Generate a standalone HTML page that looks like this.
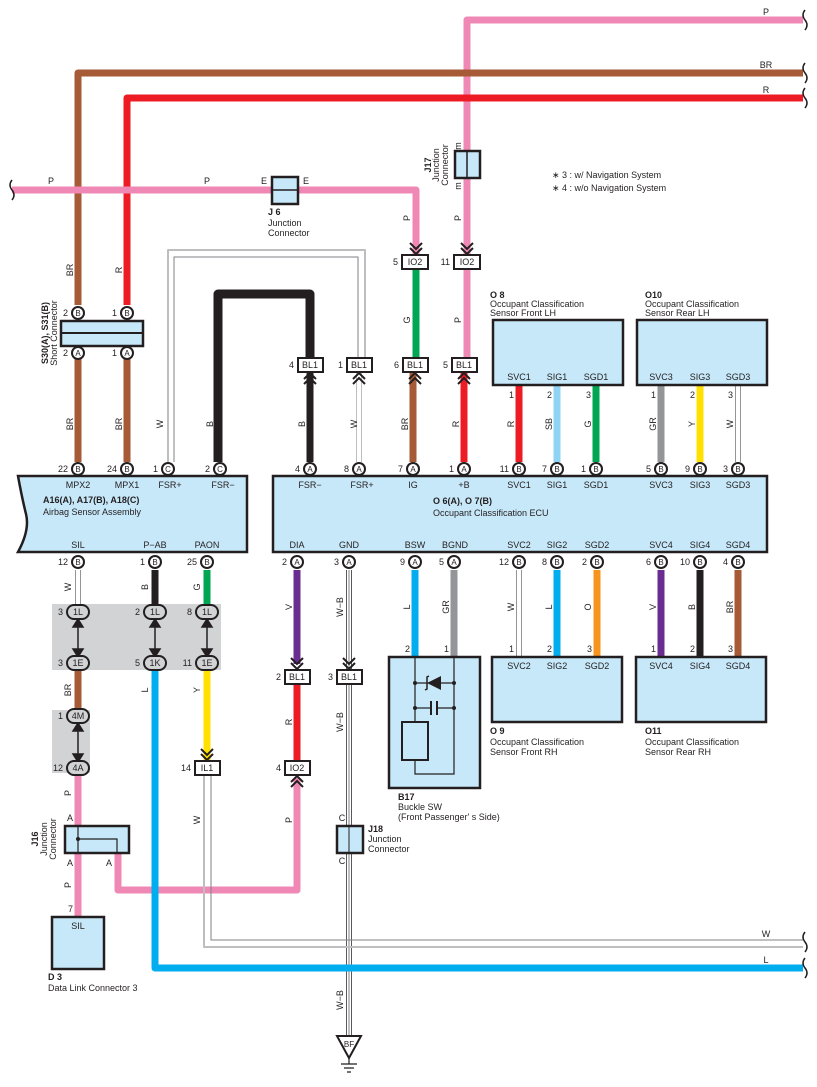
<!DOCTYPE html>
<html><head><meta charset="utf-8"><style>
body{margin:0;background:#fff}
svg{display:block}
text{font-family:"Liberation Sans",sans-serif;font-size:9px;fill:#231f20}
.b{font-weight:bold}
.pc{fill:#fff;stroke:#231f20;stroke-width:2}
.pl{font-size:8px;text-anchor:middle}
.bx{fill:#c7e8f9;stroke:#231f20;stroke-width:2.5}
.cb{fill:#fff;stroke:#231f20;stroke-width:2}
.ch{fill:none;stroke:#231f20;stroke-width:2}
.m{text-anchor:middle}
.e{text-anchor:end}
</style></head><body>
<svg width="817" height="1087" viewBox="0 0 817 1087" xmlns="http://www.w3.org/2000/svg">
<defs>
<g id="chd"><polyline class="ch" points="-6,-12 0,-6 6,-12"/><polyline class="ch" points="-6,-7 0,-1 6,-7"/></g>
<g id="chu"><polyline class="ch" points="-6,12 0,6 6,12"/><polyline class="ch" points="-6,7 0,1 6,7"/></g>
</defs>
<rect x="52" y="604" width="169" height="66" fill="#d1d3d4"/>
<rect x="52" y="710" width="38" height="63" fill="#d1d3d4"/>
<g fill="none" stroke-linejoin="round">
<path d="M803,20 H467 V262" stroke="#f088b6" stroke-width="7"/>
<path d="M467,268 V360" stroke="#f088b6" stroke-width="7"/>
<path d="M803,73 H78 V305" stroke="#a65a35" stroke-width="7"/>
<path d="M803,98 H127 V305" stroke="#ed1c24" stroke-width="7"/>
<path d="M12,190 H416 V255" stroke="#f088b6" stroke-width="7"/>
<path d="M416,268 V360" stroke="#00a651" stroke-width="7"/>
<path d="M78,352 V462 M127,352 V462" stroke="#a65a35" stroke-width="7"/>
<path d="M168,462 V250 H365 V360" stroke="#bcbec0" stroke-width="2"/>
<path d="M174,462 V257 H358 V360" stroke="#808285" stroke-width="1"/>
<path d="M218,462 V294 H310 V360" stroke="#231f20" stroke-width="9"/>
<path d="M310,372 V462" stroke="#231f20" stroke-width="7"/>
<path d="M359,372 V462" stroke="#bcbec0" stroke-width="6"/><path d="M359,372 V462" stroke="#fff" stroke-width="4"/>
<path d="M413,372 V462" stroke="#a65a35" stroke-width="7"/>
<path d="M464,372 V462" stroke="#ed1c24" stroke-width="7"/>
<path d="M519,385 V462" stroke="#ed1c24" stroke-width="7"/>
<path d="M557,385 V462" stroke="#8fd3f5" stroke-width="7"/>
<path d="M596,385 V462" stroke="#00a651" stroke-width="7"/>
<path d="M661,385 V462" stroke="#939598" stroke-width="7"/>
<path d="M700,385 V462" stroke="#ffe000" stroke-width="7"/>
<path d="M738,385 V462" stroke="#939598" stroke-width="6"/><path d="M738,385 V462" stroke="#fff" stroke-width="4"/>
<path d="M297,570 V664" stroke="#6a2c91" stroke-width="7"/>
<path d="M297,684 V762" stroke="#ed1c24" stroke-width="7"/>
<path d="M297,778 V890 H118 V852" stroke="#f088b6" stroke-width="7"/>
<path d="M349,570 V1036" stroke="#58595b" stroke-width="6"/><path d="M349,570 V1036" stroke="#fff" stroke-width="4"/><path d="M349,570 V1036" stroke="#808285" stroke-width="1"/>
<path d="M415,570 V657" stroke="#00aeef" stroke-width="7"/>
<path d="M454,570 V657" stroke="#939598" stroke-width="7"/>
<path d="M519,570 V657" stroke="#939598" stroke-width="6"/><path d="M519,570 V657" stroke="#fff" stroke-width="4"/>
<path d="M557,570 V657" stroke="#00aeef" stroke-width="7"/>
<path d="M597,570 V657" stroke="#f7941d" stroke-width="7"/>
<path d="M661,570 V657" stroke="#6a2c91" stroke-width="7"/>
<path d="M700,570 V657" stroke="#231f20" stroke-width="7"/>
<path d="M738,570 V657" stroke="#a65a35" stroke-width="7"/>
<path d="M78,570 V605" stroke="#939598" stroke-width="6"/><path d="M78,570 V605" stroke="#fff" stroke-width="4"/>
<path d="M155,570 V605" stroke="#231f20" stroke-width="7"/>
<path d="M207,570 V605" stroke="#00a651" stroke-width="7"/>
<path d="M78,670 V710" stroke="#a65a35" stroke-width="7"/>
<path d="M155,670 V968 H803" stroke="#00aeef" stroke-width="7"/>
<path d="M207,670 V760" stroke="#ffe000" stroke-width="7"/>
<path d="M78,773 V917" stroke="#f088b6" stroke-width="7"/>
<path d="M204,775 V947 H803" stroke="#bcbec0" stroke-width="2"/>
<path d="M211,775 V940 H803" stroke="#808285" stroke-width="1"/>
</g>
<g fill="none" stroke="#231f20" stroke-width="1.5">
<path d="M805,10 q-4,5 0,10 q4,5 0,10"/>
<path d="M805,63 q-4,5 0,10 q4,5 0,10"/>
<path d="M805,88 q-4,5 0,10 q4,5 0,10"/>
<path d="M12,180 q-4,5 0,10 q4,5 0,10"/>
<path d="M805,932 q-4,5 0,10 q4,5 0,10"/>
<path d="M805,958 q-4,5 0,10 q4,5 0,10"/>
</g>
<g stroke="#231f20" stroke-width="1.5" fill="#231f20">
<line x1="78" y1="620" x2="78" y2="656"/><line x1="155" y1="620" x2="155" y2="656"/><line x1="207" y1="620" x2="207" y2="656"/><line x1="78" y1="724" x2="78" y2="761"/>
<path d="M73,627 L78,619 L83,627 Z M73,649 L78,657 L83,649 Z M150,627 L155,619 L160,627 Z M150,649 L155,657 L160,649 Z M202,627 L207,619 L212,627 Z M202,649 L207,657 L212,649 Z M73,731 L78,723 L83,731 Z M73,754 L78,762 L83,754 Z"/>
</g>
<rect class="bx" x="272" y="177" width="26" height="27" stroke-width="2"/><line x1="272" y1="190" x2="298" y2="190" stroke="#231f20" stroke-width="1.5"/>
<rect class="bx" x="455" y="151" width="25" height="27" stroke-width="2"/><line x1="467" y1="151" x2="467" y2="178" stroke="#231f20" stroke-width="1.5"/>
<rect class="bx" x="65" y="826" width="64" height="27" stroke-width="2"/>
<path d="M78,826 V853 M78,839 H117 V853" fill="none" stroke="#231f20" stroke-width="1.2"/><circle cx="78" cy="839" r="2" fill="#231f20"/>
<rect class="bx" x="337" y="826" width="26" height="27" stroke-width="2"/><line x1="349" y1="826" x2="349" y2="853" stroke="#231f20" stroke-width="1"/>
<rect class="bx" x="61" y="321" width="82" height="25"/><line x1="61" y1="333" x2="143" y2="333" stroke="#231f20" stroke-width="2"/>
<path class="bx" d="M18,476 H247 V552 H18 Q30,530 26,514 Q22,498 18,476 Z"/>
<rect class="bx" x="273" y="476" width="494" height="76"/>
<rect class="bx" x="493" y="320" width="130" height="65"/>
<rect class="bx" x="637" y="320" width="130" height="65"/>
<rect class="bx" x="492" y="657" width="130" height="65"/>
<rect class="bx" x="636" y="657" width="130" height="65"/>
<rect class="bx" x="389" y="657" width="91" height="131"/>
<rect class="bx" x="52" y="917" width="52" height="52"/>
<g stroke="#231f20" stroke-width="1.2" fill="none">
<path d="M415,657 V774 H454 V657"/>
<line x1="415" y1="683" x2="454" y2="683"/>
<line x1="415" y1="708" x2="431" y2="708"/><line x1="437" y1="708" x2="454" y2="708"/>
<line x1="431" y1="701" x2="431" y2="715" stroke-width="2"/><line x1="437" y1="701" x2="437" y2="715" stroke-width="2"/>
<rect x="402" y="722" width="26" height="38" stroke-width="2" fill="#c7e8f9"/>
</g>
<path d="M427,683 L441,676 L441,690 Z" fill="#231f20"/><path d="M425,690 L427,689 L427,677 L429,676" stroke="#231f20" stroke-width="1.5" fill="none"/>
<g fill="#231f20"><circle cx="415" cy="683" r="2"/><circle cx="454" cy="683" r="2"/><circle cx="415" cy="708" r="2"/><circle cx="454" cy="708" r="2"/></g>
<path d="M337,1036 H361 L349,1058 Z" fill="#fff" stroke="#231f20" stroke-width="2"/>
<text x="349" y="1047" class="m" style="font-size:8px">BF</text>
<path d="M349,1058 V1064 M341,1064 H357 M344,1068 H354 M347,1072 H351" stroke="#231f20" stroke-width="1.2"/>
<g>
<rect class="cb" x="402" y="255" width="26" height="14"/><text x="415" y="265" class="m">IO2</text><text x="398" y="265" class="e">5</text>
<rect class="cb" x="454" y="255" width="26" height="14"/><text x="467" y="265" class="m">IO2</text><text x="450" y="265" class="e">11</text>
<rect class="cb" x="298" y="358" width="25" height="14"/><text x="310" y="368" class="m">BL1</text><text x="294" y="368" class="e">4</text>
<rect class="cb" x="347" y="358" width="25" height="14"/><text x="359" y="368" class="m">BL1</text><text x="343" y="368" class="e">1</text>
<rect class="cb" x="403" y="358" width="25" height="14"/><text x="415" y="368" class="m">BL1</text><text x="399" y="368" class="e">6</text>
<rect class="cb" x="452" y="358" width="25" height="14"/><text x="464" y="368" class="m">BL1</text><text x="448" y="368" class="e">5</text>
<rect class="cb" x="285" y="670" width="25" height="14"/><text x="297" y="680" class="m">BL1</text><text x="281" y="680" class="e">2</text>
<rect class="cb" x="337" y="670" width="25" height="14"/><text x="349" y="680" class="m">BL1</text><text x="333" y="680" class="e">3</text>
<rect class="cb" x="195" y="761" width="25" height="14"/><text x="207" y="771" class="m">IL1</text><text x="191" y="771" class="e">14</text>
<rect class="cb" x="285" y="761" width="25" height="14"/><text x="297" y="771" class="m">IO2</text><text x="281" y="771" class="e">4</text>
</g>
<use href="#chd" x="416" y="255"/><use href="#chd" x="467" y="255"/>
<use href="#chu" x="310" y="372"/><use href="#chu" x="359" y="372"/><use href="#chu" x="415" y="372"/><use href="#chu" x="464" y="372"/>
<use href="#chd" x="297" y="670"/><use href="#chd" x="349" y="670"/><use href="#chd" x="207" y="761"/><use href="#chu" x="297" y="775"/>
<g>
<rect x="67" y="605" width="22" height="14" rx="7" fill="#d1d3d4" stroke="#231f20" stroke-width="2"/><text x="78" y="615" class="m">1L</text><text x="63" y="615" class="e">3</text>
<rect x="144" y="605" width="22" height="14" rx="7" fill="#d1d3d4" stroke="#231f20" stroke-width="2"/><text x="155" y="615" class="m">1L</text><text x="140" y="615" class="e">2</text>
<rect x="196" y="605" width="22" height="14" rx="7" fill="#d1d3d4" stroke="#231f20" stroke-width="2"/><text x="207" y="615" class="m">1L</text><text x="192" y="615" class="e">8</text>
<rect x="67" y="656" width="22" height="14" rx="7" fill="#d1d3d4" stroke="#231f20" stroke-width="2"/><text x="78" y="666" class="m">1E</text><text x="63" y="666" class="e">3</text>
<rect x="144" y="656" width="22" height="14" rx="7" fill="#d1d3d4" stroke="#231f20" stroke-width="2"/><text x="155" y="666" class="m">1K</text><text x="140" y="666" class="e">5</text>
<rect x="196" y="656" width="22" height="14" rx="7" fill="#d1d3d4" stroke="#231f20" stroke-width="2"/><text x="207" y="666" class="m">1E</text><text x="192" y="666" class="e">11</text>
<rect x="67" y="709" width="22" height="14" rx="7" fill="#d1d3d4" stroke="#231f20" stroke-width="2"/><text x="78" y="719" class="m">4M</text><text x="63" y="719" class="e">1</text>
<rect x="67" y="761" width="22" height="14" rx="7" fill="#d1d3d4" stroke="#231f20" stroke-width="2"/><text x="78" y="771" class="m">4A</text><text x="63" y="771" class="e">12</text>
</g>
<g>
<circle class="pc" cx="78" cy="313" r="6"/><text x="78" y="316" class="pl">B</text><text x="68" y="316" class="e">2</text>
<circle class="pc" cx="127" cy="313" r="6"/><text x="127" y="316" class="pl">B</text><text x="117" y="316" class="e">1</text>
<circle class="pc" cx="78" cy="353" r="6"/><text x="78" y="356" class="pl">A</text><text x="68" y="356" class="e">2</text>
<circle class="pc" cx="127" cy="353" r="6"/><text x="127" y="356" class="pl">A</text><text x="117" y="356" class="e">1</text>
<circle class="pc" cx="78" cy="469" r="6"/><text x="78" y="472" class="pl">B</text><text x="68" y="472" class="e">22</text>
<circle class="pc" cx="127" cy="469" r="6"/><text x="127" y="472" class="pl">B</text><text x="117" y="472" class="e">24</text>
<circle class="pc" cx="168" cy="469" r="6"/><text x="168" y="472" class="pl">C</text><text x="158" y="472" class="e">1</text>
<circle class="pc" cx="220" cy="469" r="6"/><text x="220" y="472" class="pl">C</text><text x="210" y="472" class="e">2</text>
<circle class="pc" cx="78" cy="562" r="6"/><text x="78" y="565" class="pl">B</text><text x="68" y="565" class="e">12</text>
<circle class="pc" cx="155" cy="562" r="6"/><text x="155" y="565" class="pl">B</text><text x="145" y="565" class="e">1</text>
<circle class="pc" cx="207" cy="562" r="6"/><text x="207" y="565" class="pl">B</text><text x="197" y="565" class="e">25</text>
<circle class="pc" cx="310" cy="469" r="6"/><text x="310" y="472" class="pl">A</text><text x="300" y="472" class="e">4</text>
<circle class="pc" cx="359" cy="469" r="6"/><text x="359" y="472" class="pl">A</text><text x="349" y="472" class="e">8</text>
<circle class="pc" cx="413" cy="469" r="6"/><text x="413" y="472" class="pl">A</text><text x="403" y="472" class="e">7</text>
<circle class="pc" cx="464" cy="469" r="6"/><text x="464" y="472" class="pl">A</text><text x="454" y="472" class="e">1</text>
<circle class="pc" cx="519" cy="469" r="6"/><text x="519" y="472" class="pl">B</text><text x="509" y="472" class="e">11</text>
<circle class="pc" cx="557" cy="469" r="6"/><text x="557" y="472" class="pl">B</text><text x="547" y="472" class="e">7</text>
<circle class="pc" cx="596" cy="469" r="6"/><text x="596" y="472" class="pl">B</text><text x="586" y="472" class="e">1</text>
<circle class="pc" cx="661" cy="469" r="6"/><text x="661" y="472" class="pl">B</text><text x="651" y="472" class="e">5</text>
<circle class="pc" cx="700" cy="469" r="6"/><text x="700" y="472" class="pl">B</text><text x="690" y="472" class="e">9</text>
<circle class="pc" cx="738" cy="469" r="6"/><text x="738" y="472" class="pl">B</text><text x="728" y="472" class="e">3</text>
<circle class="pc" cx="297" cy="562" r="6"/><text x="297" y="565" class="pl">A</text><text x="287" y="565" class="e">2</text>
<circle class="pc" cx="349" cy="562" r="6"/><text x="349" y="565" class="pl">A</text><text x="339" y="565" class="e">3</text>
<circle class="pc" cx="415" cy="562" r="6"/><text x="415" y="565" class="pl">A</text><text x="405" y="565" class="e">9</text>
<circle class="pc" cx="454" cy="562" r="6"/><text x="454" y="565" class="pl">A</text><text x="444" y="565" class="e">5</text>
<circle class="pc" cx="519" cy="562" r="6"/><text x="519" y="565" class="pl">B</text><text x="509" y="565" class="e">12</text>
<circle class="pc" cx="557" cy="562" r="6"/><text x="557" y="565" class="pl">B</text><text x="547" y="565" class="e">8</text>
<circle class="pc" cx="597" cy="562" r="6"/><text x="597" y="565" class="pl">B</text><text x="587" y="565" class="e">2</text>
<circle class="pc" cx="661" cy="562" r="6"/><text x="661" y="565" class="pl">B</text><text x="651" y="565" class="e">6</text>
<circle class="pc" cx="700" cy="562" r="6"/><text x="700" y="565" class="pl">B</text><text x="690" y="565" class="e">10</text>
<circle class="pc" cx="738" cy="562" r="6"/><text x="738" y="565" class="pl">B</text><text x="728" y="565" class="e">4</text>
</g>
<g>
<text x="78" y="488" class="m">MPX2</text><text x="127" y="488" class="m">MPX1</text><text x="170" y="488" class="m">FSR+</text><text x="223" y="488" class="m">FSR−</text>
<text x="78" y="548" class="m">SIL</text><text x="155" y="548" class="m">P−AB</text><text x="207" y="548" class="m">PAON</text>
<text x="310" y="488" class="m">FSR−</text><text x="362" y="488" class="m">FSR+</text><text x="413" y="488" class="m">IG</text><text x="464" y="488" class="m">+B</text>
<text x="519" y="488" class="m">SVC1</text><text x="557" y="488" class="m">SIG1</text><text x="596" y="488" class="m">SGD1</text>
<text x="661" y="488" class="m">SVC3</text><text x="700" y="488" class="m">SIG3</text><text x="738" y="488" class="m">SGD3</text>
<text x="297" y="548" class="m">DIA</text><text x="349" y="548" class="m">GND</text><text x="415" y="548" class="m">BSW</text><text x="455" y="548" class="m">BGND</text>
<text x="519" y="548" class="m">SVC2</text><text x="557" y="548" class="m">SIG2</text><text x="597" y="548" class="m">SGD2</text>
<text x="661" y="548" class="m">SVC4</text><text x="700" y="548" class="m">SIG4</text><text x="738" y="548" class="m">SGD4</text>
<text x="519" y="380" class="m">SVC1</text><text x="557" y="380" class="m">SIG1</text><text x="596" y="380" class="m">SGD1</text>
<text x="661" y="380" class="m">SVC3</text><text x="700" y="380" class="m">SIG3</text><text x="738" y="380" class="m">SGD3</text>
<text x="519" y="669" class="m">SVC2</text><text x="557" y="669" class="m">SIG2</text><text x="597" y="669" class="m">SGD2</text>
<text x="661" y="669" class="m">SVC4</text><text x="700" y="669" class="m">SIG4</text><text x="738" y="669" class="m">SGD4</text>
<text x="78" y="929" class="m">SIL</text>
</g>
<g>
<text x="514" y="398" class="e">1</text><text x="552" y="398" class="e">2</text><text x="591" y="398" class="e">3</text>
<text x="656" y="398" class="e">1</text><text x="695" y="398" class="e">2</text><text x="733" y="398" class="e">3</text>
<text x="514" y="652" class="e">1</text><text x="552" y="652" class="e">2</text><text x="592" y="652" class="e">3</text>
<text x="656" y="652" class="e">1</text><text x="695" y="652" class="e">2</text><text x="733" y="652" class="e">3</text>
<text x="410" y="652" class="e">2</text><text x="449" y="652" class="e">1</text>
<text x="73" y="912" class="e">7</text>
</g>
<text x="43" y="503" class="b">A16(A), A17(B), A18(C)</text><text x="43" y="515">Airbag Sensor Assembly</text>
<text x="433" y="504" class="b">O 6(A), O 7(B)</text><text x="433" y="516">Occupant Classification ECU</text>
<text x="490" y="298" class="b">O 8</text><text x="490" y="307">Occupant Classification</text><text x="490" y="316">Sensor Front LH</text>
<text x="645" y="298" class="b">O10</text><text x="645" y="307">Occupant Classification</text><text x="645" y="316">Sensor Rear LH</text>
<text x="490" y="734" class="b">O 9</text><text x="490" y="745">Occupant Classification</text><text x="490" y="755">Sensor Front RH</text>
<text x="645" y="734" class="b">O11</text><text x="645" y="745">Occupant Classification</text><text x="645" y="755">Sensor Rear RH</text>
<text x="398" y="800" class="b">B17</text><text x="398" y="810">Buckle SW</text><text x="398" y="820">(Front Passenger' s Side)</text>
<text x="48" y="980" class="b">D 3</text><text x="48" y="991">Data Link Connector 3</text>
<text x="268" y="215" class="b">J 6</text><text x="268" y="226">Junction</text><text x="268" y="236">Connector</text>
<text x="368" y="832" class="b">J18</text><text x="368" y="842">Junction</text><text x="368" y="852">Connector</text>
<text x="552" y="178">∗ 3 : w/ Navigation System</text><text x="552" y="191">∗ 4 : w/o Navigation System</text>
<g>
<text transform="translate(48,333) rotate(-90)" class="m b">S30(A), S31(B)</text><text transform="translate(57,333) rotate(-90)" class="m">Short Connector</text>
<text transform="translate(431,165) rotate(-90)" class="m b">J17</text><text transform="translate(439,165) rotate(-90)" class="m">Junction</text><text transform="translate(448,165) rotate(-90)" class="m">Connector</text>
<text transform="translate(38,839) rotate(-90)" class="m b">J16</text><text transform="translate(47,839) rotate(-90)" class="m">Junction</text><text transform="translate(56,839) rotate(-90)" class="m">Connector</text>
</g>
<text x="766" y="15" class="m">P</text><text x="766" y="68" class="m">BR</text><text x="766" y="93" class="m">R</text>
<text x="51" y="184" class="m">P</text><text x="207" y="184" class="m">P</text><text x="264" y="184" class="m">E</text><text x="306" y="184" class="m">E</text>
<text x="766" y="937" class="m">W</text><text x="766" y="963" class="m">L</text>
<text x="70" y="821" class="m">A</text><text x="70" y="866" class="m">A</text><text x="109" y="866" class="m">A</text>
<text x="342" y="821" class="m">C</text><text x="342" y="864" class="m">C</text>
<g>
<text transform="translate(73,270) rotate(-90)" class="m">BR</text><text transform="translate(122,270) rotate(-90)" class="m">R</text>
<text transform="translate(410,218) rotate(-90)" class="m">P</text><text transform="translate(461,218) rotate(-90)" class="m">P</text>
<text transform="translate(461,146) rotate(-90)" class="m">m</text><text transform="translate(461,186) rotate(-90)" class="m">m</text>
<text transform="translate(410,320) rotate(-90)" class="m">G</text><text transform="translate(461,320) rotate(-90)" class="m">P</text>
<text transform="translate(73,424) rotate(-90)" class="m">BR</text><text transform="translate(122,424) rotate(-90)" class="m">BR</text>
<text transform="translate(163,424) rotate(-90)" class="m">W</text><text transform="translate(213,424) rotate(-90)" class="m">B</text>
<text transform="translate(305,424) rotate(-90)" class="m">B</text><text transform="translate(357,424) rotate(-90)" class="m">W</text>
<text transform="translate(408,424) rotate(-90)" class="m">BR</text><text transform="translate(459,424) rotate(-90)" class="m">R</text>
<text transform="translate(514,424) rotate(-90)" class="m">R</text><text transform="translate(552,424) rotate(-90)" class="m">SB</text>
<text transform="translate(591,424) rotate(-90)" class="m">G</text><text transform="translate(656,424) rotate(-90)" class="m">GR</text>
<text transform="translate(695,424) rotate(-90)" class="m">Y</text><text transform="translate(733,424) rotate(-90)" class="m">W</text>
<text transform="translate(71,587) rotate(-90)" class="m">W</text><text transform="translate(148,587) rotate(-90)" class="m">B</text><text transform="translate(200,587) rotate(-90)" class="m">G</text>
<text transform="translate(292,607) rotate(-90)" class="m">V</text><text transform="translate(343,607) rotate(-90)" class="m">W−B</text>
<text transform="translate(410,607) rotate(-90)" class="m">L</text><text transform="translate(449,607) rotate(-90)" class="m">GR</text>
<text transform="translate(514,607) rotate(-90)" class="m">W</text><text transform="translate(552,607) rotate(-90)" class="m">L</text>
<text transform="translate(591,607) rotate(-90)" class="m">O</text><text transform="translate(656,607) rotate(-90)" class="m">V</text>
<text transform="translate(695,607) rotate(-90)" class="m">B</text><text transform="translate(733,607) rotate(-90)" class="m">BR</text>
<text transform="translate(71,690) rotate(-90)" class="m">BR</text><text transform="translate(148,690) rotate(-90)" class="m">L</text><text transform="translate(200,690) rotate(-90)" class="m">Y</text>
<text transform="translate(292,722) rotate(-90)" class="m">R</text><text transform="translate(343,722) rotate(-90)" class="m">W−B</text>
<text transform="translate(71,793) rotate(-90)" class="m">P</text><text transform="translate(200,820) rotate(-90)" class="m">W</text>
<text transform="translate(292,820) rotate(-90)" class="m">P</text><text transform="translate(71,885) rotate(-90)" class="m">P</text>
<text transform="translate(343,1000) rotate(-90)" class="m">W−B</text>
</g>
</svg>
</body></html>
